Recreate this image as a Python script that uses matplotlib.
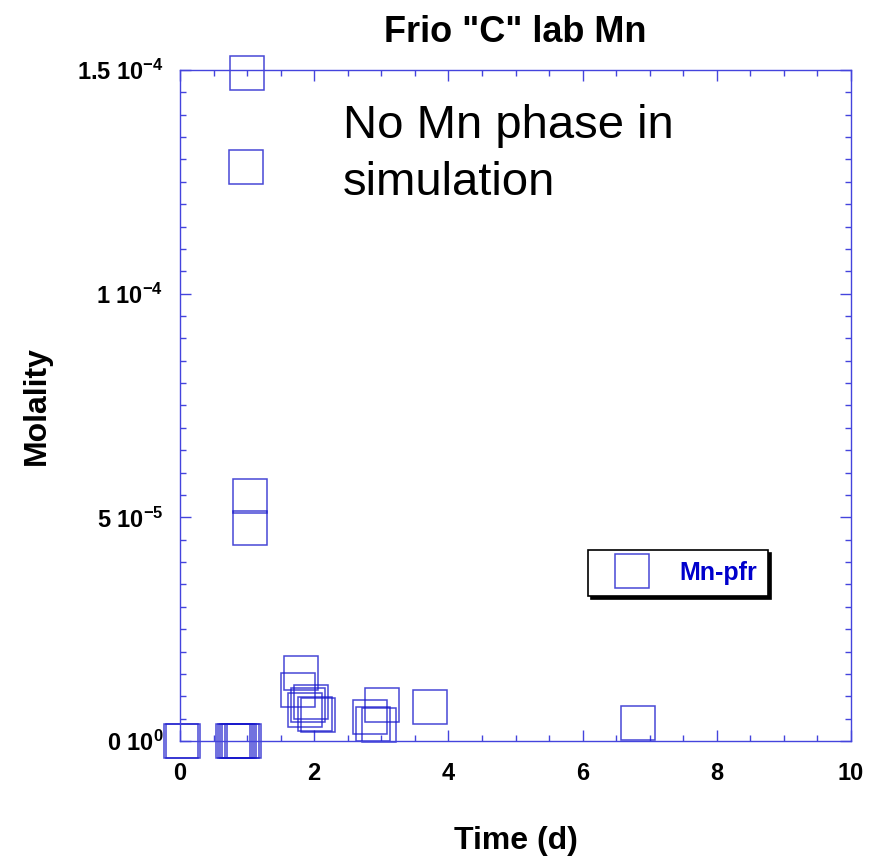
import matplotlib
matplotlib.use('Agg')
import matplotlib.pyplot as plt
from matplotlib.ticker import FixedLocator, MultipleLocator

# data
time_d = [0.01, 0.05, 0.79, 0.82, 0.85, 0.88, 0.92, 0.95,
          0.98, 1.0, 1.05, 1.05,
          1.81, 1.76, 1.95, 1.91, 1.86, 2.01, 2.05,
          3.01, 2.83, 2.87, 2.97, 3.73, 6.82]
mn_pfr = [0, 0, 0, 0, 0, 0, 0, 0,
          1.284e-4, 1.494e-4, 5.47e-5, 4.77e-5,
          1.51e-5, 1.13e-5, 8.7e-6, 8.0e-6, 6.9e-6, 6.0e-6, 5.7e-6,
          8.0e-6, 5.3e-6, 3.9e-6, 3.5e-6, 7.5e-6, 3.96e-6]

ytick_vals = [0, 5e-5, 1e-4, 1.5e-4]
ytick_labels = ['0 10$^{0}$', '5 10$^{-5}$', '1 10$^{-4}$', '1.5 10$^{-4}$']
xtick_vals = [0, 2, 4, 6, 8, 10]

plt.rcParams['font.family'] = ['Liberation Sans', 'DejaVu Sans']
plt.rcParams['mathtext.fontset'] = 'custom'
plt.rcParams['mathtext.rm'] = 'Liberation Sans:bold'
plt.rcParams['mathtext.default'] = 'rm'

blue = '#1a1acc'
axcol = '#4444dd'

fig = plt.figure(figsize=(8.82, 8.6), dpi=100)
ax = fig.add_axes([0.2041, 0.1384, 0.7608, 0.7802])

ax.plot(time_d, mn_pfr, 's', ms=24.5, mfc='none', mec=blue, mew=1.1,
        alpha=0.8, clip_on=False, label='Mn-pfr')

ax.set_xlim(0, 10)
ax.set_ylim(0, 1.5e-4)

ax.xaxis.set_major_locator(FixedLocator(xtick_vals))
ax.xaxis.set_minor_locator(MultipleLocator(0.5))
ax.yaxis.set_major_locator(FixedLocator(ytick_vals))
ax.yaxis.set_minor_locator(MultipleLocator(5e-6))
ax.set_xticklabels([str(v) for v in xtick_vals])
ax.set_yticklabels(ytick_labels)

ax.tick_params(which='both', direction='in', top=True, right=True,
               color=axcol, width=1.0)
ax.tick_params(which='major', length=8, labelsize=17)
ax.tick_params(axis='x', which='major', pad=15)
ax.tick_params(axis='y', which='major', pad=12)
ax.tick_params(which='minor', length=4)
for lab in ax.get_xticklabels() + ax.get_yticklabels():
    lab.set_fontweight('bold')
for sp in ax.spines.values():
    sp.set_color(axcol)
    sp.set_linewidth(1.0)

ax.set_xlabel('Time (d)', fontsize=23, fontweight='bold', labelpad=30)
ax.set_ylabel('Molality', fontsize=23, fontweight='bold', labelpad=18)
ax.set_title('Frio "C" lab Mn', fontsize=26, fontweight='bold', pad=20)

ax.text(0.243, 0.949, 'No Mn phase in\nsimulation', transform=ax.transAxes,
        fontsize=34, va='top', ha='left', linespacing=1.38)

leg = ax.legend(loc='center', bbox_to_anchor=(0.742, 0.25), fancybox=False,
                shadow={'color': 'black', 'alpha': 1}, framealpha=1,
                edgecolor='black', handlelength=2.6, handletextpad=0.6,
                borderpad=0.45, borderaxespad=0, prop={'size': 18, 'weight': 'bold'})
leg.get_frame().set_linewidth(1.2)
for t in leg.get_texts():
    t.set_color('#0000cc')

plt.savefig('out.png', dpi=100)
